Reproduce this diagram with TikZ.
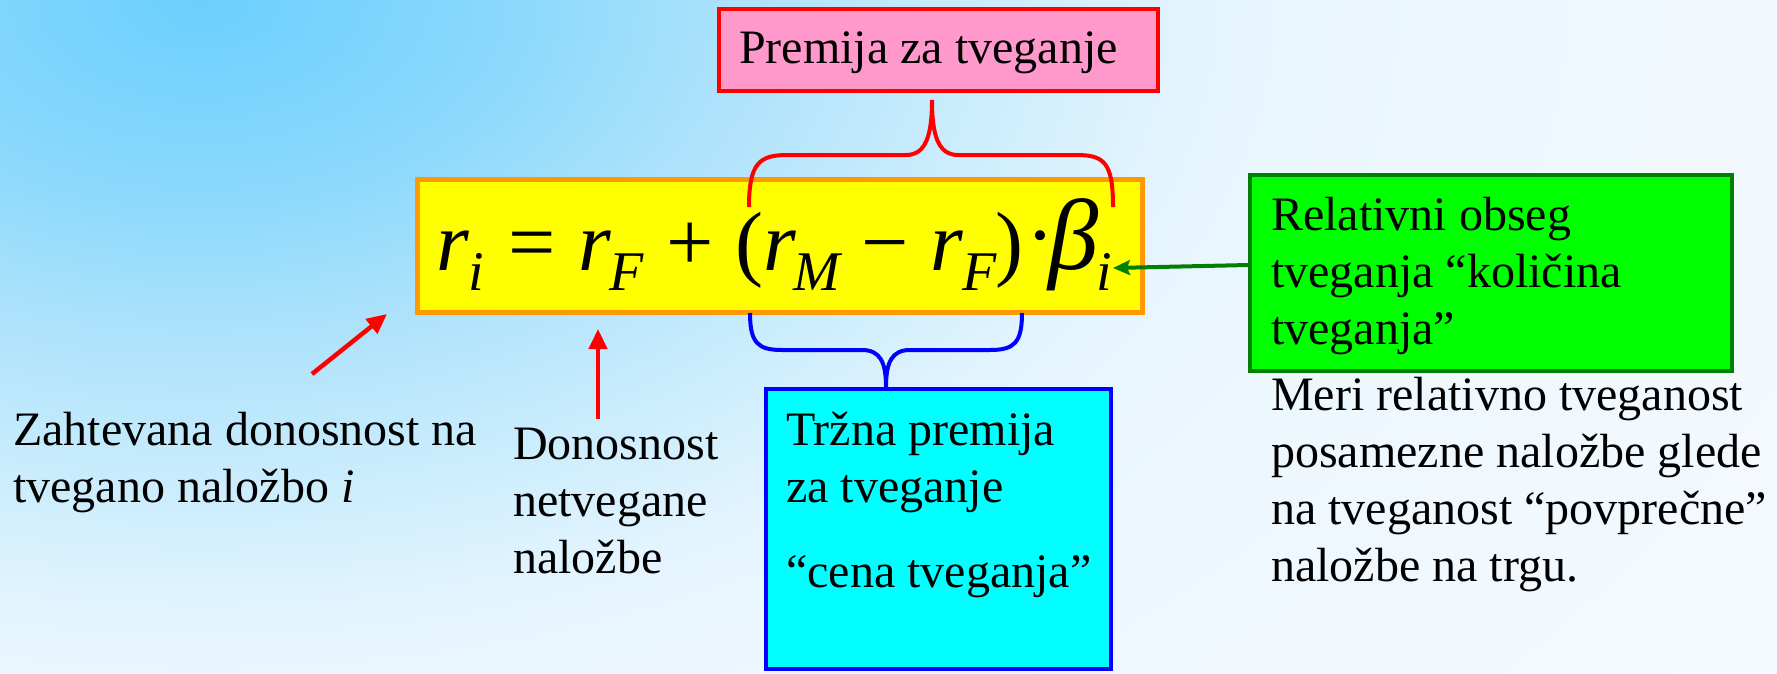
\documentclass[tikz,border=0pt]{standalone}
\usepackage{fontspec}
\setmainfont{Liberation Serif}
\usetikzlibrary{arrows.meta}
\definecolor{bg0}{RGB}{108,207,253}
\definecolor{bg1}{RGB}{140,217,252}
\definecolor{bg2}{RGB}{170,225,251}
\definecolor{bg3}{RGB}{198,235,252}
\definecolor{bg4}{RGB}{226,244,254}
\definecolor{bg5}{RGB}{234,246,254}
\definecolor{bg6}{RGB}{242,249,254}
\definecolor{bg7}{RGB}{246,251,255}
\definecolor{pinkfill}{RGB}{255,153,204}
\definecolor{orangeline}{RGB}{255,153,0}
\definecolor{darkgreen}{RGB}{0,128,0}
\definecolor{cyanfill}{RGB}{0,255,255}
\definecolor{greenfill}{RGB}{0,255,0}
\definecolor{yellowfill}{RGB}{255,255,0}
\definecolor{bluel}{RGB}{0,0,255}
\definecolor{redl}{RGB}{255,0,0}
\pgfdeclareradialshading{bgshade}{\pgfpoint{0bp}{0bp}}{color(0bp)=(bg0); color(3.75bp)=(bg1); color(6bp)=(bg2); color(8.6bp)=(bg3); color(11.4bp)=(bg4); color(12.75bp)=(bg5); color(18.75bp)=(bg6); color(25bp)=(bg7); color(50bp)=(bg7)}
\newcommand\subfs{\fontsize{56}{60}\selectfont\itshape}
\begin{document}
\begin{tikzpicture}[x=1pt,y=-1pt,
  txt/.style={inner sep=0pt, anchor=north west, align=left, font=\fontsize{48}{57}\selectfont},
  boxshape/.style={draw, line width=4pt, inner sep=0pt},
  bracestyle/.style={line width=4pt},
  redarrow/.style={redl, line width=4.5pt, -{Triangle[length=20pt,width=18pt]}},
  greenarrow/.style={darkgreen, line width=4pt, -{Stealth[length=17pt,width=15pt,inset=3pt]}}]
\useasboundingbox (0,0) rectangle (1777,673);
\begin{scope}
  \clip (0,0) rectangle (1777,673);
  \shade[shading=bgshade] (200,0) ellipse [x radius=2164pt, y radius=1346pt];
\end{scope}
% boxes
\node[boxshape, draw=redl, fill=pinkfill, minimum width=439pt, minimum height=82pt] (pink) at (938.5,50) {};
\node[boxshape, draw=orangeline, fill=yellowfill, line width=5pt, minimum width=725pt, minimum height=133pt] (ybox) at (780,246) {};
\node[boxshape, draw=bluel, fill=cyanfill, minimum width=345pt, minimum height=280pt] (cbox) at (938.5,529) {};
\node[boxshape, draw=darkgreen, fill=greenfill, minimum width=482pt, minimum height=196pt] (gbox) at (1491,273) {};
% formula
\node[inner sep=0pt, anchor=base west, font=\fontsize{84}{90}\selectfont] (formula) at (436,270) {%
\makebox[32pt][l]{\itshape r}%
\makebox[40pt][l]{\raisebox{-20pt}{\subfs i}}%
\makebox[70pt][l]{=}%
\makebox[31pt][l]{\itshape r}%
\makebox[57pt][l]{\raisebox{-20pt}{\subfs F}}%
\makebox[69pt][l]{+}%
\makebox[28pt][l]{(}%
\makebox[30pt][l]{\itshape r}%
\makebox[68pt][l]{\raisebox{-20pt}{\subfs M}}%
\makebox[69pt][l]{−}%
\makebox[32pt][l]{\itshape r}%
\makebox[33pt][l]{\raisebox{-20pt}{\subfs F}}%
\makebox[31pt][l]{)}%
\makebox[22pt][l]{\raisebox{7pt}{·}}%
\makebox[48pt][l]{\raisebox{1pt}{\scalebox{1.2}{\itshape β}}}%
\raisebox{-20pt}{\subfs i}};
% braces
\draw[bracestyle, redl] (749,207) .. controls (749,162) and (760,155) .. (788,155) -- (906,155) .. controls (926,155) and (932,135) .. (932,100)
  .. controls (932,135) and (938,155) .. (958,155) -- (1076,155) .. controls (1104,155) and (1113,162) .. (1113,207);
\coordinate (btip) at (886,387);
\draw[bracestyle, bluel] (750,313) .. controls (750,343) and (758,350) .. (782,350) -- (862,350) .. controls (880,350) and (886,362) .. (btip)
  .. controls (886,362) and (892,350) .. (910,350) -- (990,350) .. controls (1014,350) and (1022,343) .. (1022,313);
% texts
\node[txt] (tpink) at (739,23.1) {\strut Premija za tveganje};
\node[txt] (tleft) at (13,405.1) {\strut Zahtevana donosnost na\\tvegano naložbo \textit{i}};
\node[txt] (tdon) at (513,419.1) {\strut Donosnost\\netvegane\\naložbe};
\node[txt] (tcyan) at (786,405.1) {\strut Tržna premija\\za tveganje\\[28pt]“cena tveganja”};
\node[txt] (tgreen) at (1271,190.1) {\strut Relativni obseg\\tveganja “količina\\tveganja”};
\node[txt] (tmeri) at (1271,370.1) {\strut Meri relativno tveganost\\posamezne naložbe glede\\na tveganost “povprečne”\\naložbe na trgu.};
% arrows
\coordinate (a1s) at (312,374);
\coordinate (a1e) at (387,314);
\coordinate (a2s) at (598,419);
\coordinate (a2e) at (598,329);
\coordinate (beta) at (1113,268);
\draw[redarrow] (a1s) -- (a1e);
\draw[redarrow] (a2s) -- (a2e);
\draw[greenarrow] ([yshift=8pt]gbox.west) -- (beta);
\end{tikzpicture}
\end{document}
